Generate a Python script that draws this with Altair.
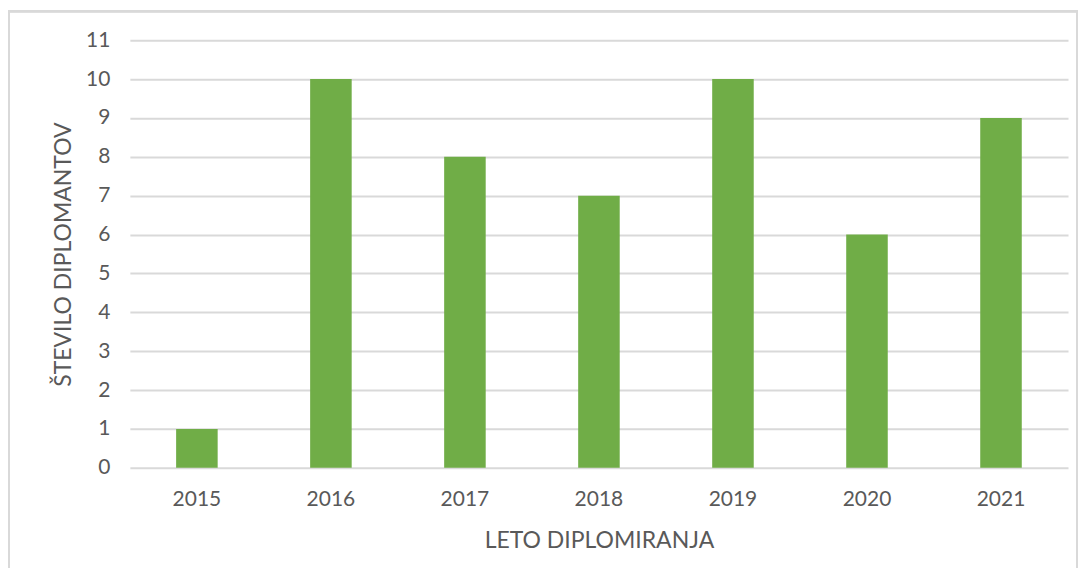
import altair as alt
import pandas as pd

years = ["2015", "2016", "2017", "2018", "2019", "2020", "2021"]
counts = [1, 10, 8, 7, 10, 6, 9]

df = pd.DataFrame({"leto": years, "stevilo": counts})

W, H = 939, 428
FONT = "Lato"
TXT = "#595959"
GRID = "#D9D9D9"

bars = alt.Chart(df).mark_bar(color="#70AD47").encode(
    x=alt.X("leto:N", sort=years, title="LETO DIPLOMIRANJA",
            scale=alt.Scale(paddingInner=0.69, paddingOuter=0.345),
            axis=alt.Axis(labelAngle=0, domain=False, ticks=False,
                          labelPadding=21, titlePadding=20)),
    y=alt.Y("stevilo:Q", title="ŠTEVILO DIPLOMANTOV",
            scale=alt.Scale(domain=[0, 11], nice=False),
            axis=alt.Axis(values=list(range(12)), domain=False, ticks=False,
                          grid=True, gridColor=GRID, gridWidth=2,
                          labelPadding=20, titlePadding=10)),
)

border = alt.Chart(df).mark_rect(fill=None, stroke=GRID, strokeWidth=2, clip=False).encode(
    x=alt.value(-121), x2=alt.value(948), y=alt.value(-29), y2=alt.value(536)
)

chart = alt.layer(border, bars).properties(
    width=W, height=H,
    padding={"left": 122, "top": 32, "right": 10, "bottom": 100},
    autosize=alt.AutoSizeParams(type="none"),
    background="white",
).configure_view(stroke=None).configure_axis(
    labelFont=FONT, titleFont=FONT, labelColor=TXT, titleColor=TXT,
    labelFontSize=21, titleFontSize=23, titleFontWeight="normal",
)

chart.save("out.html", embed_options={"renderer": "svg", "actions": False})
